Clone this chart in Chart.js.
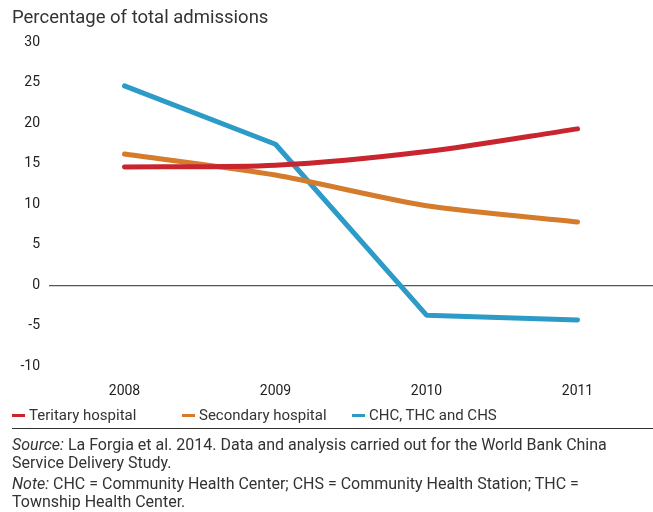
<!DOCTYPE html>
<html><head><meta charset="utf-8">
<script src="https://cdn.jsdelivr.net/npm/chart.js@4/dist/chart.umd.min.js"></script>
<style>
html,body{margin:0;padding:0;background:#fff;}
body{width:653px;height:512px;position:relative;overflow:hidden;font-family:Roboto,"Liberation Sans",sans-serif;color:#222;}
#wrap{position:absolute;left:0;top:0;width:653px;height:417px;}
#legend{position:absolute;left:0;top:406px;width:653px;height:22px;font-size:15px;line-height:18px;color:#333;}
.li{position:absolute;top:0;white-space:nowrap;}
.li span.m{display:inline-block;width:13px;height:3px;vertical-align:middle;margin-right:4px;position:relative;top:-1px;}
#sep{position:absolute;left:12px;top:428px;width:641px;height:0;border-top:1.3px solid #333;}
#notes{position:absolute;left:12px;top:436px;width:641px;font-size:16px;line-height:18px;color:#333;}
#notes p{margin:0 0 3px 0;white-space:nowrap;}
</style></head>
<body>
<div id="wrap"><canvas id="c" width="653" height="417"></canvas></div>
<div id="legend"></div>
<div id="sep"></div>
<div id="notes">
<p><i>Source:</i> La Forgia et al. 2014. Data and analysis carried out for the World Bank China<br>Service Delivery Study.</p>
<p><i>Note:</i> CHC = Community Health Center; CHS = Community Health Station; THC =<br>Township Health Center.</p>
</div>
<script>
const years = ["2008", "2009", "2010", "2011"];
const tertiary = [14.6, 14.8, 16.5, 19.3];
const secondary = [16.2, 13.6, 9.8, 7.8];
const primary = [24.6, 17.4, -3.7, -4.3];
const seriesNames = ["Teritary hospital", "Secondary hospital", "CHC, THC and CHS"];
const seriesColors = ["#C8252F", "#D57B2C", "#2C9BC7"];
const yTicks = { min: -10, max: 30, step: 5 };

const seriesData = [tertiary, secondary, primary];
const tensions = [0.3, 0.25, 0];

const chart = new Chart(document.getElementById('c'), {
  type: 'line',
  data: {
    labels: years,
    datasets: seriesData.map((d, i) => ({
      label: seriesNames[i],
      data: d,
      borderColor: seriesColors[i],
      backgroundColor: seriesColors[i],
      borderWidth: 5,
      borderCapStyle: 'round',
      borderJoinStyle: 'round',
      pointRadius: 0,
      tension: tensions[i],
      fill: false
    }))
  },
  options: {
    responsive: false,
    animation: false,
    layout: { padding: { left: 12, right: 0, top: 0, bottom: 0 } },
    plugins: {
      legend: { display: false },
      tooltip: { enabled: false },
      title: {
        display: true,
        text: 'Percentage of total admissions',
        align: 'start',
        color: '#333',
        font: { family: 'Roboto', size: 18.5, weight: 'normal' },
        padding: { top: 7, bottom: 13 }
      }
    },
    scales: {
      x: {
        offset: true,
        grid: { display: false, drawTicks: false },
        border: { display: false },
        ticks: { color: '#222', font: { family: 'Roboto', size: 14 }, padding: 17 }
      },
      y: {
        min: yTicks.min, max: yTicks.max,
        afterFit: (s) => { s.width = 37; },
        grid: {
          drawTicks: false,
          color: (ctx) => ctx.tick && ctx.tick.value === 0 ? '#555' : 'rgba(0,0,0,0)',
          lineWidth: 1.3
        },
        border: { display: false },
        ticks: { stepSize: yTicks.step, color: '#222', font: { family: 'Roboto', size: 14 }, padding: 9 }
      }
    }
  }
});

const legendX = [12, 182, 352];
const lg = document.getElementById('legend');
seriesNames.forEach((n, i) => {
  const d = document.createElement('div');
  d.className = 'li';
  d.style.left = legendX[i] + 'px';
  d.innerHTML = '<span class="m" style="background:' + seriesColors[i] + '"></span>' + n;
  lg.appendChild(d);
});
</script>
</body></html>
